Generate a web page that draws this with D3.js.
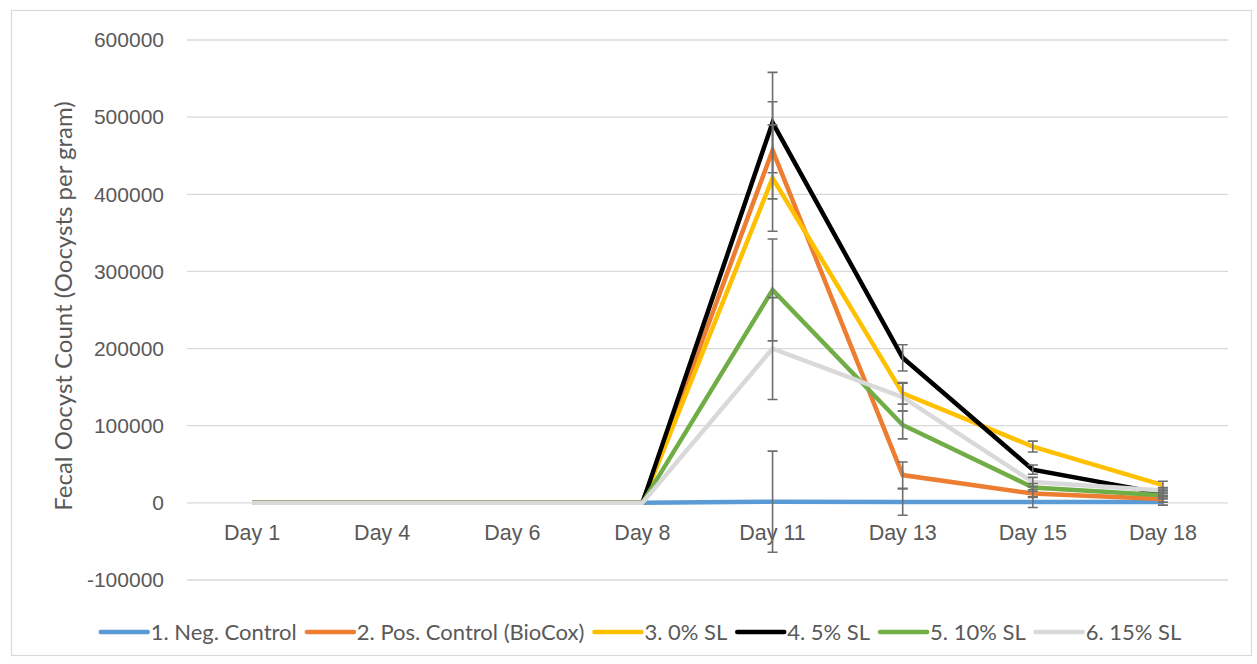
<!DOCTYPE html>
<html>
<head>
<meta charset="utf-8">
<script src="https://cdn.jsdelivr.net/npm/d3@7"></script>
<style>
  body { margin: 0; background: #fff; }
  svg { font-family: Lato, "Open Sans", sans-serif; }
</style>
</head>
<body>
<svg id="chart"></svg>
<script>
const days = ["Day 1", "Day 4", "Day 6", "Day 8", "Day 11", "Day 13", "Day 15", "Day 18"];
const yTicks = [-100000, 0, 100000, 200000, 300000, 400000, 500000, 600000];
const seriesNames = ["1. Neg. Control", "2. Pos. Control (BioCox)", "3. 0% SL", "4. 5% SL", "5. 10% SL", "6. 15% SL"];
const seriesColors = ["#5B9BD5", "#ED7D31", "#FFC000", "#000000", "#70AD47", "#D9D9D9"];

const negControl = [0, 0, 0, 0, 1500, 1000, 1000, 1000];
const posControl = [0, 0, 0, 0, 457000, 36000, 12000, 5000];
const sl0 = [0, 0, 0, 0, 421000, 142000, 73000, 23000];
const sl5 = [0, 0, 0, 0, 493000, 188000, 43000, 12000];
const sl10 = [0, 0, 0, 0, 276000, 101000, 20000, 10000];
const sl15 = [0, 0, 0, 0, 200000, 137000, 27000, 16000];

const negErr = [0, 0, 0, 0, 65500, 17000, 7000, 4000];
const posErr = [0, 0, 0, 0, 63000, 17000, 5000, 4000];
const sl0Err = [0, 0, 0, 0, 69000, 14000, 7000, 5000];
const sl5Err = [0, 0, 0, 0, 65000, 17000, 6000, 4000];
const sl10Err = [0, 0, 0, 0, 66000, 18000, 5000, 4000];
const sl15Err = [0, 0, 0, 0, 66000, 18000, 6000, 4000];

const allValues = [negControl, posControl, sl0, sl5, sl10, sl15];
const allErrors = [negErr, posErr, sl0Err, sl5Err, sl10Err, sl15Err];

const width = 1257, height = 664;
const margin = { top: 40, right: 29, bottom: 84, left: 187 };
const textColor = "#595959";
const gridColor = "#D9D9D9";

const series = seriesNames.map((name, i) => ({
  name,
  color: seriesColors[i],
  points: days.map((d, j) => ({ day: d, value: allValues[i][j], err: allErrors[i][j] }))
}));

const svg = d3.select("#chart")
  .attr("width", width)
  .attr("height", height);

// chart border
svg.append("rect")
  .attr("x", 11.5).attr("y", 10.5)
  .attr("width", 1240).attr("height", 645)
  .attr("fill", "none")
  .attr("stroke", gridColor)
  .attr("stroke-width", 1.2);

const x = d3.scaleBand()
  .domain(days)
  .range([margin.left, width - margin.right]);

const y = d3.scaleLinear()
  .domain([-100000, 600000])
  .range([height - margin.bottom, margin.top]);

// gridlines
svg.append("g")
  .selectAll("line")
  .data(yTicks)
  .enter()
  .append("line")
    .attr("x1", margin.left)
    .attr("x2", width - margin.right)
    .attr("y1", d => y(d))
    .attr("y2", d => y(d))
    .attr("stroke", gridColor)
    .attr("stroke-width", 1.3);

// y axis labels (plain hyphen for negatives, like the original)
const yAxis = svg.append("g")
  .attr("transform", `translate(${margin.left - 11},0)`)
  .call(d3.axisLeft(y).tickValues(yTicks).tickFormat(d => String(d)).tickSize(0).tickPadding(12));
yAxis.select(".domain").remove();
yAxis.selectAll("text")
  .attr("fill", textColor)
  .style("font-size", "21px");

// x axis labels
const xAxis = svg.append("g")
  .attr("transform", `translate(0,${y(0)})`)
  .call(d3.axisBottom(x).tickSize(0).tickPadding(22));
xAxis.select(".domain").remove();
xAxis.selectAll("text")
  .attr("fill", textColor)
  .style("font-size", "21.5px");

// y axis title
svg.append("text")
  .attr("transform", `translate(72,${306}) rotate(-90)`)
  .attr("text-anchor", "middle")
  .attr("fill", textColor)
  .style("font-size", "24px")
  .text("Fecal Oocyst Count (Oocysts per gram)");

const cx = d => x(d) + x.bandwidth() / 2;

const line = d3.line()
  .x(d => cx(d.day))
  .y(d => y(d.value));

// lines
svg.append("g")
  .selectAll("path")
  .data(series)
  .enter()
  .append("path")
    .attr("d", d => line(d.points))
    .attr("fill", "none")
    .attr("stroke", d => d.color)
    .attr("stroke-width", 4.5)
    .attr("stroke-linejoin", "miter");

// error bars
const errPoints = series.flatMap(s => s.points.filter(p => p.err > 0));
const errG = svg.append("g")
  .attr("stroke", "#6E6E6E")
  .attr("stroke-width", 1.6);
errG.selectAll(".err")
  .data(errPoints)
  .enter()
  .append("path")
    .attr("fill", "none")
    .attr("d", p => {
      const c = cx(p.day), top = y(p.value + p.err), bot = y(p.value - p.err);
      return `M${c},${top}V${bot}M${c - 5},${top}H${c + 5}M${c - 5},${bot}H${c + 5}`;
    });

// legend
const legend = svg.append("g").attr("transform", `translate(0,632)`);
let lx = 0;
series.forEach(s => {
  const g = legend.append("g").attr("transform", `translate(${lx},0)`);
  g.append("line")
    .attr("x1", 2).attr("x2", 49)
    .attr("stroke", s.color)
    .attr("stroke-width", 4.5)
    .attr("stroke-linecap", "round");
  const t = g.append("text")
    .attr("x", 52)
    .attr("dy", "0.35em")
    .attr("fill", textColor)
    .style("font-size", "22px")
    .text(s.name);
  lx += 52 + t.node().getComputedTextLength() + 8;
});
legend.attr("transform", `translate(${640 - (lx - 8) / 2},632)`);
</script>
</body>
</html>
